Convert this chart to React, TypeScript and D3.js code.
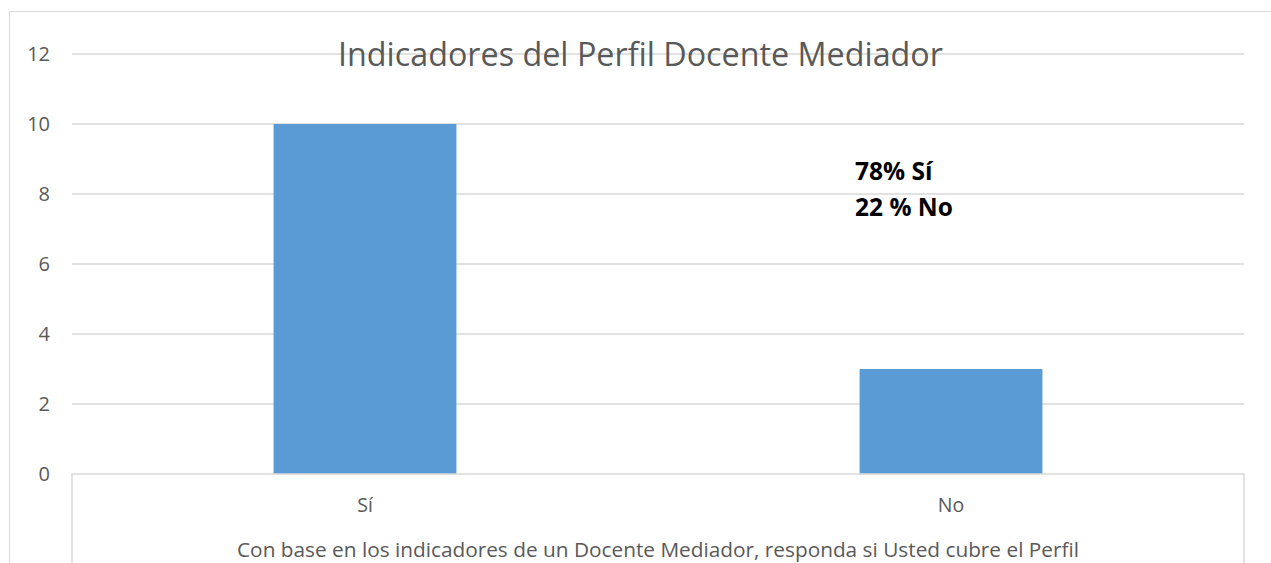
import React from "react";
import * as d3 from "d3";

const categories = ["Sí", "No"];
const values = [10, 3];
const yTicks = [0, 2, 4, 6, 8, 10, 12];
const title = "Indicadores del Perfil Docente Mediador";
const axisTitle = "Con base en los indicadores de un Docente Mediador, responda si Usted cubre el Perfil";
const annotations = ["78% Sí", "22 % No"];

export default function App() {
  const W = 1271, H = 563;
  const left = 72, right = 1244, top = 54, bottom = 474;
  const x = d3.scaleBand<string>().domain(categories).range([left, right]).padding(0);
  const y = d3.scaleLinear().domain([0, 12]).range([bottom, top]);
  const barW = x.bandwidth() * 0.312;
  const font = "'Open Sans', sans-serif";
  return (
    <svg width={W} height={H} style={{ position: "absolute", left: 0, top: 0, background: "#fff" }}>
      <rect x={9.5} y={11.5} width={1300} height={600} fill="none" stroke="#d9d9d9" strokeWidth={1} />
      {yTicks.filter(t => t > 0).map(t => (
        <line key={t} x1={left} x2={right} y1={y(t)} y2={y(t)} stroke="#d9d9d9" strokeWidth={1.5} />
      ))}
      {categories.map((c, i) => (
        <rect key={c} x={x(c)! + x.bandwidth() / 2 - barW / 2} y={y(values[i])} width={barW} height={y(0) - y(values[i])} fill="#5B9BD5" />
      ))}
      <path d={`M${left},${H + 5}V${bottom}H${right}V${H + 5}`} fill="none" stroke="#d9d9d9" strokeWidth={1.5} />
      {yTicks.map(t => (
        <text key={t} x={50} y={y(t)} dy="0.36em" textAnchor="end" fontSize={20} fill="#595959" fontFamily={font}>{t}</text>
      ))}
      {categories.map(c => (
        <text key={c} x={x(c)! + x.bandwidth() / 2} y={512} textAnchor="middle" fontSize={19.5} fill="#595959" fontFamily={font}>{c}</text>
      ))}
      <text x={658} y={557} textAnchor="middle" fontSize={20.8} fill="#595959" fontFamily={font}>{axisTitle}</text>
      <text x={640.5} y={66} textAnchor="middle" fontSize={32.3} fill="#595959" fontFamily={font}>{title}</text>
      {annotations.map((a, i) => (
        <text key={a} x={855} y={180 + i * 36} fontSize={24.5} fontWeight="bold" fill="#000" fontFamily={font}>{a}</text>
      ))}
    </svg>
  );
}
